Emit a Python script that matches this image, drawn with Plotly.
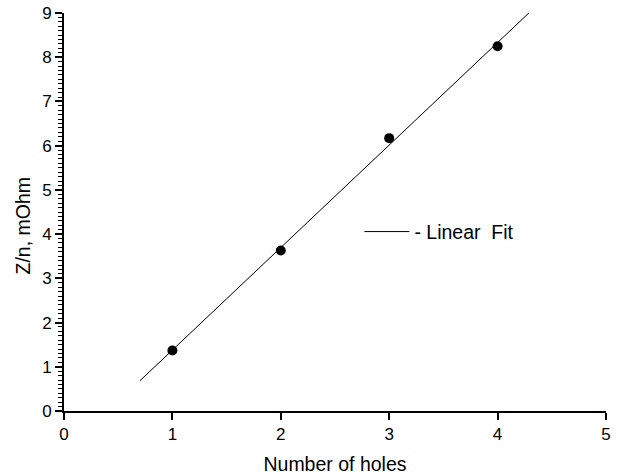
import numpy as np
import plotly.graph_objects as go

holes = [1, 2, 3, 4]
z_per_n = [1.37, 3.63, 6.17, 8.25]
fit_x_range = [0.7, 4.29]
x_ticks = [0, 1, 2, 3, 4, 5]
y_ticks = [0, 1, 2, 3, 4, 5, 6, 7, 8, 9]

slope, intercept = np.polyfit(holes, z_per_n, 1)
fit_x = np.array(fit_x_range)
fit_y = slope * fit_x + intercept

font = "Liberation Sans, Arial, sans-serif"

fig = go.Figure()
fig.add_trace(go.Scatter(x=fit_x, y=fit_y, mode="lines",
                         line=dict(color="black", width=1),
                         name="- Linear\u00a0 Fit", showlegend=True))
fig.add_trace(go.Scatter(x=holes, y=z_per_n, mode="markers",
                         marker=dict(color="black", size=10),
                         showlegend=False))

fig.update_layout(
    width=619, height=475,
    margin=dict(l=64, r=13, t=13, b=64),
    paper_bgcolor="white", plot_bgcolor="white",
    font=dict(family=font, size=17, color="black"),
    legend=dict(x=0.545, y=0.45, xanchor="left", yanchor="middle",
                bgcolor="rgba(0,0,0,0)", font=dict(size=19.5),
                itemwidth=45),
    xaxis=dict(range=[0, 5], tickvals=x_ticks, ticks="outside", ticklen=7,
               tickwidth=1.5, tickcolor="black", showline=True, linewidth=2,
               linecolor="black", showgrid=False, zeroline=False,
               automargin=False,
               title=dict(text="Number of holes", font=dict(size=19.5), standoff=16),
               tickfont=dict(size=17)),
    yaxis=dict(range=[0, 9], tickvals=y_ticks, ticks="outside", ticklen=7,
               tickwidth=1.5, tickcolor="black", showline=True, linewidth=2,
               linecolor="black", showgrid=False, zeroline=False,
               automargin=False,
               minor=dict(dtick=0.1, ticks="outside", ticklen=4, tickwidth=1,
                          tickcolor="black", showgrid=False),
               tickfont=dict(size=17)),
    annotations=[dict(text="Z/n, mOhm", textangle=-90, xref="paper", yref="paper",
                      x=-0.075, y=0.467, xanchor="center", yanchor="middle",
                      showarrow=False, font=dict(size=19.5))],
)

fig.write_html("out.html")
